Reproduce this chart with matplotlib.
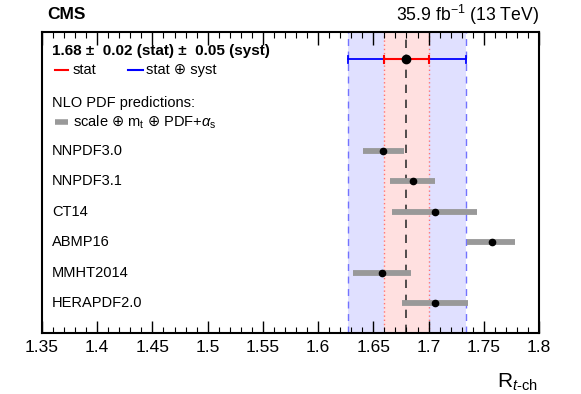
import matplotlib
matplotlib.use("Agg")
import matplotlib.pyplot as plt
from matplotlib.ticker import MultipleLocator, FixedFormatter, FixedLocator

plt.rcParams['font.family'] = ['Liberation Sans', 'DejaVu Sans']
plt.rcParams['mathtext.fontset'] = 'custom'
plt.rcParams['mathtext.rm'] = 'Liberation Sans'
plt.rcParams['mathtext.it'] = 'Liberation Sans:italic'
plt.rcParams['mathtext.sf'] = 'DejaVu Sans'
plt.rcParams['mathtext.fallback'] = 'stixsans'

# Measurement
meas_val = 1.68
stat_lo, stat_hi = 1.66, 1.70
tot_lo, tot_hi = 1.627, 1.734

# Predictions
pdf_names = ["NNPDF3.0", "NNPDF3.1", "CT14", "ABMP16", "MMHT2014", "HERAPDF2.0"]
pdf_vals = [1.659, 1.686, 1.706, 1.757, 1.658, 1.706]
pdf_lo = [1.641, 1.665, 1.667, 1.735, 1.632, 1.676]
pdf_hi = [1.678, 1.706, 1.744, 1.778, 1.684, 1.736]

xticks = [1.35, 1.4, 1.45, 1.5, 1.55, 1.6, 1.65, 1.7, 1.75, 1.8]
xticklabels = ["1.35", "1.4", "1.45", "1.5", "1.55", "1.6", "1.65", "1.7", "1.75", "1.8"]

fig = plt.figure(figsize=(5.81, 3.94), dpi=100)
ax = fig.add_axes([0.0723, 0.1548, 0.8554, 0.764])

ax.set_xlim(1.35, 1.8)
ax.set_ylim(5.97, -3.9)

# bands
ax.axvspan(tot_lo, tot_hi, color=(0.88, 0.88, 1.0), lw=0, zorder=0)
ax.axvspan(stat_lo, stat_hi, color=(1.0, 0.88, 0.88), lw=0, zorder=0.5)
for xv in (tot_lo, tot_hi):
    ax.axvline(xv, color=(0.45, 0.45, 1.0), ls=(0, (5, 4)), lw=1.0, zorder=1)
for xv in (stat_lo, stat_hi):
    ax.axvline(xv, color=(1.0, 0.45, 0.45), ls=(0, (1, 2)), lw=1.0, zorder=1)
ax.axvline(meas_val, color='0.2', ls=(0, (5, 4)), lw=1.2, zorder=1.5)

# measurement
ymeas = -3
ax.plot([tot_lo, tot_hi], [ymeas, ymeas], color='blue', lw=1.3, zorder=3)
ax.plot([tot_lo, tot_lo], [ymeas - 0.12, ymeas + 0.12], color='blue', lw=1.3, zorder=3)
ax.plot([tot_hi, tot_hi], [ymeas - 0.12, ymeas + 0.12], color='blue', lw=1.3, zorder=3)
ax.plot([stat_lo, stat_hi], [ymeas, ymeas], color='red', lw=1.5, zorder=4)
ax.plot([stat_lo, stat_lo], [ymeas - 0.12, ymeas + 0.12], color='red', lw=1.5, zorder=4)
ax.plot([stat_hi, stat_hi], [ymeas - 0.12, ymeas + 0.12], color='red', lw=1.5, zorder=4)
ax.plot([meas_val], [ymeas], 'o', color='black', ms=6, zorder=5)

# predictions
for i, (n, v, lo, hi) in enumerate(zip(pdf_names, pdf_vals, pdf_lo, pdf_hi)):
    ax.plot([lo, hi], [i, i], color='#999999', lw=4.2, solid_capstyle='butt', zorder=3)
    ax.plot([v], [i], 'o', color='black', ms=4.5, zorder=4)
    ax.text(0.02, i, n, transform=ax.get_yaxis_transform(), ha='left', va='center', fontsize=10.5)

# legend texts
yt = ax.get_yaxis_transform()
ax.text(0.02, -3.28, "1.68 \u00b1  0.02 (stat) \u00b1  0.05 (syst)", transform=yt,
        ha='left', va='center', fontsize=11, fontweight='bold')
ax.plot([0.027, 0.052], [-2.67, -2.67], color='red', lw=1.5, transform=yt, clip_on=False)
ax.text(0.062, -2.67, "stat", transform=yt, ha='left', va='center', fontsize=10.5)
ax.plot([0.173, 0.203], [-2.67, -2.67], color='blue', lw=1.5, transform=yt, clip_on=False)
ax.text(0.21, -2.67, "stat \u2295 syst", transform=yt, ha='left', va='center', fontsize=10.5)
ax.text(0.02, -1.58, "NLO PDF predictions:", transform=yt, ha='left', va='center', fontsize=10.5)
ax.plot([0.027, 0.052], [-0.95, -0.95], color='#999999', lw=4, transform=yt, clip_on=False,
        solid_capstyle='butt')
ax.text(0.062, -0.95,
        "scale $\\mathsf{\u2295}$ m$_\\mathrm{t}$ $\\mathsf{\u2295}$ PDF+$\\alpha_\\mathrm{s}$",
        transform=yt, ha='left', va='center', fontsize=10.5)

# ticks
ax.xaxis.set_major_locator(FixedLocator(xticks))
ax.xaxis.set_major_formatter(FixedFormatter(xticklabels))
ax.xaxis.set_minor_locator(MultipleLocator(0.01))
ax.tick_params(axis='x', which='both', direction='in', top=True, bottom=True, labelsize=12.5, pad=5)
ax.tick_params(axis='x', which='major', length=9, width=1.0)
ax.tick_params(axis='x', which='minor', length=4.5, width=0.8)
ax.set_yticks([])
for s in ax.spines.values():
    s.set_linewidth(1.5)

fig.text(0.081, 0.962, "CMS", fontsize=12.5, fontweight='bold', ha='left', va='center')
fig.text(0.9277, 0.962, r"35.9 fb$^{-1}$ (13 TeV)", fontsize=12.7, ha='right', va='center')
fig.text(0.926, 0.03, r"R$_{\mathit{t}\text{-ch}}$", fontsize=15, ha='right', va='center')

fig.savefig("out.png", dpi=100)
